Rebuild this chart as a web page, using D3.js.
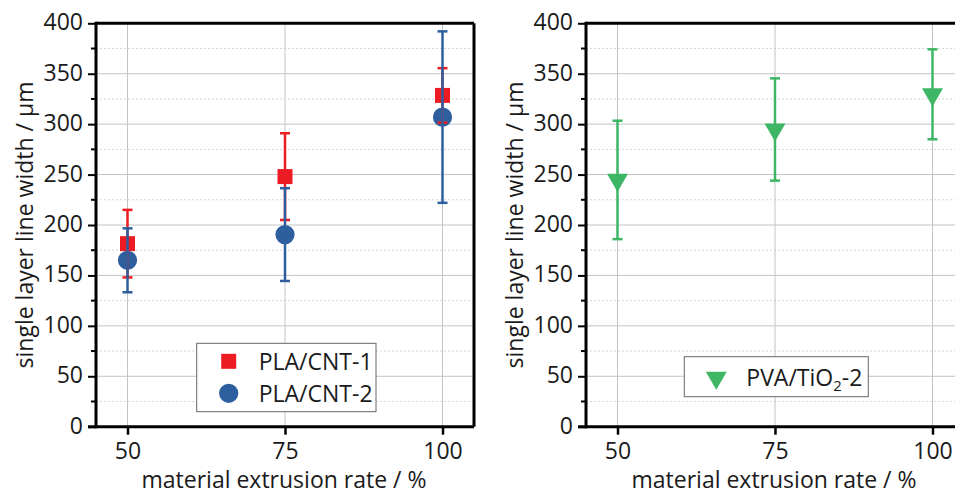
<!DOCTYPE html>
<html>
<head>
<meta charset="utf-8">
<script src="https://cdn.jsdelivr.net/npm/d3@7"></script>
<style>
  body { margin: 0; background: #fff; }
  text { font-family: "Open Sans", sans-serif; fill: #1a1a1a; }
</style>
</head>
<body>
<div id="chart"></div>
<script>
// data
const rates = [50, 75, 100];
const cnt1Width = [181.5, 248, 328.5];
const cnt1Err = [33.5, 43, 27];
const cnt2Width = [165, 190.5, 307];
const cnt2Err = [31.7, 46, 85];
const tioWidth = [244.7, 294.7, 329.6];
const tioErr = [58.7, 50.7, 44.6];
const yTicks = [0, 50, 100, 150, 200, 250, 300, 350, 400];
const yMinor = [25, 75, 125, 175, 225, 275, 325, 375];

const W = 955, H = 496;
const RED = "#ed1c24", BLUE = "#2d5f9e", GREEN = "#3db665";
const FONT = 23;
const SUB_SHIFT = 5;

const svg = d3.select("#chart").append("svg")
    .attr("width", W)
    .attr("height", H);

const y = d3.scaleLinear().domain([0, 400]).range([426.7, 23.3]);

function drawPanel(left, series, legend) {
    const x = d3.scaleLinear().domain([45, 105]).range([left, left + 378]);
    const g = svg.append("g");
    const x0 = x.range()[0], x1 = x.range()[1];

    // minor grid (dotted)
    g.selectAll(".minorGrid").data(yMinor).enter().append("line")
        .attr("x1", x0).attr("x2", x1)
        .attr("y1", d => y(d)).attr("y2", d => y(d))
        .attr("stroke", "#d6d6d6")
        .attr("stroke-dasharray", "2,2");

    // major grid
    g.selectAll(".majorGrid").data(yTicks.slice(1, -1)).enter().append("line")
        .attr("x1", x0).attr("x2", x1)
        .attr("y1", d => y(d)).attr("y2", d => y(d))
        .attr("stroke", "#c4c4c4");

    g.selectAll(".vGrid").data(rates).enter().append("line")
        .attr("x1", d => x(d)).attr("x2", d => x(d))
        .attr("y1", y(0)).attr("y2", y(400))
        .attr("stroke", "#c4c4c4");

    // legend box drawn under data
    const lg = g.append("g");
    lg.append("rect")
        .attr("x", legend.x).attr("y", legend.y)
        .attr("width", legend.w).attr("height", legend.h)
        .attr("fill", "#fff")
        .attr("stroke", "#666")
        .attr("stroke-width", 1);

    // markers first, error bars on top
    series.forEach(s => {
        const pts = rates.map((r, i) => ({ r: r, v: s.values[i], e: s.errs[i] }));
        const sym = d3.symbol().type(s.shape).size(s.size);
        g.selectAll(null).data(pts).enter().append("path")
            .attr("d", sym)
            .attr("transform", d => `translate(${x(d.r)},${y(d.v)})` + (s.flip ? " rotate(180)" : ""))
            .attr("fill", s.color);
    });

    series.forEach(s => {
        const pts = rates.map((r, i) => ({ r: r, v: s.values[i], e: s.errs[i] }));
        const eb = g.selectAll(null).data(pts).enter().append("g")
            .attr("stroke", s.color)
            .attr("stroke-width", 2.5);
        eb.append("line")
            .attr("x1", d => x(d.r)).attr("x2", d => x(d.r))
            .attr("y1", d => y(d.v - d.e)).attr("y2", d => y(d.v + d.e));
        eb.append("line")
            .attr("x1", d => x(d.r) - 5).attr("x2", d => x(d.r) + 5)
            .attr("y1", d => y(d.v + d.e)).attr("y2", d => y(d.v + d.e));
        eb.append("line")
            .attr("x1", d => x(d.r) - 5).attr("x2", d => x(d.r) + 5)
            .attr("y1", d => y(d.v - d.e)).attr("y2", d => y(d.v - d.e));
    });

    // legend entries
    legend.items.forEach((it, i) => {
        const s = series[it.idx];
        const cy = legend.y + legend.first + i * legend.step;
        lg.append("path")
            .attr("d", d3.symbol().type(s.shape).size(s.size))
            .attr("transform", `translate(${legend.x + 32},${cy})` + (s.flip ? " rotate(180)" : ""))
            .attr("fill", s.color);
        const t = lg.append("text")
            .attr("x", legend.x + 62)
            .attr("y", cy)
            .attr("dy", "0.36em")
            .style("font-size", FONT + "px");
        it.label.forEach(part => {
            const ts = t.append("tspan").text(part.t);
            if (part.sub) ts.attr("dy", SUB_SHIFT).style("font-size", (FONT * 0.65) + "px");
            if (part.after) ts.attr("dy", -SUB_SHIFT);
        });
    });

    // frame
    g.append("line").attr("x1", x0).attr("x2", x1).attr("y1", y(400)).attr("y2", y(400))
        .attr("stroke", "#000").attr("stroke-width", 3);
    g.append("line").attr("x1", x1).attr("x2", x1).attr("y1", y(0)).attr("y2", y(400))
        .attr("stroke", "#000").attr("stroke-width", 3);

    // y axis
    const yAxis = g.append("g")
        .attr("transform", `translate(${x0},0)`)
        .call(d3.axisLeft(y).tickValues(yTicks).tickSize(8).tickPadding(5));
    yAxis.select(".domain").attr("stroke-width", 3).attr("d", `M0,${y(0) + 1.5}V${y(400) - 1.5}`);
    yAxis.selectAll(".tick line").attr("stroke-width", 2);
    yAxis.selectAll(".tick text")
        .style("font-size", FONT + "px")
        .style("font-family", "'Open Sans', sans-serif")
        .attr("fill", "#1a1a1a")
        .attr("dy", "0.28em");
    yAxis.selectAll(".minorTick").data(yMinor).enter().append("line")
        .attr("x1", -5).attr("x2", 0)
        .attr("y1", d => y(d)).attr("y2", d => y(d))
        .attr("stroke", "#000").attr("stroke-width", 2);

    // x axis
    const xAxis = g.append("g")
        .attr("transform", `translate(0,${y(0)})`)
        .call(d3.axisBottom(x).tickValues(rates).tickSize(8).tickPadding(8));
    xAxis.select(".domain").attr("stroke-width", 3).attr("d", `M${x0 - 8},0H${x1}`);
    xAxis.selectAll(".tick line").attr("stroke-width", 2.5);
    xAxis.selectAll(".tick text")
        .style("font-size", FONT + "px")
        .style("font-family", "'Open Sans', sans-serif")
        .attr("fill", "#1a1a1a");

    // titles
    g.append("text")
        .attr("x", (x0 + x1) / 2 - 1)
        .attr("y", 488)
        .attr("text-anchor", "middle")
        .style("font-size", FONT + "px")
        .text("material extrusion rate / %");
    g.append("text")
        .attr("transform", `translate(${x0 - 63},${(y(0) + y(400)) / 2}) rotate(-90)`)
        .attr("text-anchor", "middle")
        .style("font-size", FONT + "px")
        .text("single layer line width / µm");
}

drawPanel(96, [
    { values: cnt1Width, errs: cnt1Err, color: RED, shape: d3.symbolSquare, size: 225 },
    { values: cnt2Width, errs: cnt2Err, color: BLUE, shape: d3.symbolCircle, size: 290 }
], {
    x: 196.7, y: 343.3, w: 179.3, h: 68.4, first: 18, step: 32,
    items: [
        { idx: 0, label: [{ t: "PLA/CNT-1" }] },
        { idx: 1, label: [{ t: "PLA/CNT-2" }] }
    ]
});

drawPanel(586, [
    { values: tioWidth, errs: tioErr, color: GREEN, shape: d3.symbolTriangle, size: 190, flip: true }
], {
    x: 684.3, y: 356.7, w: 184, h: 40, first: 21, step: 32,
    items: [
        { idx: 0, label: [{ t: "PVA/TiO" }, { t: "2", sub: true }, { t: "-2", after: true }] }
    ]
});
</script>
</body>
</html>
